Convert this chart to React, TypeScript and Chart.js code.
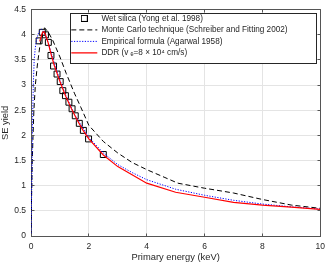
import { useEffect, useRef } from 'react';
import { Chart, registerables } from 'chart.js';

Chart.register(...registerables);

// ---------- data ----------
const seriesLabels = [
  'Wet silica (Yong et al. 1998)',
  'Monte Carlo technique (Schreiber and Fitting 2002)',
  'Empirical formula (Agarwal 1958)',
  'DDR (v \u2091=8 \u00d7 10\u2074 cm/s)',
];

const wetE = [0.28, 0.39, 0.5, 0.6, 0.69, 0.78, 0.9, 1.01, 1.1, 1.19, 1.31, 1.42, 1.53, 1.67, 1.81, 1.99, 2.5];
const wetY = [3.88, 4.05, 4.0, 3.85, 3.59, 3.38, 3.22, 3.07, 2.89, 2.79, 2.66, 2.53, 2.39, 2.24, 2.1, 1.93, 1.62];

const mcE = [0, 0.02, 0.04, 0.07, 0.1, 0.15, 0.22, 0.3, 0.38, 0.47, 0.6, 0.76, 1.0, 1.22, 1.5, 1.73, 2.0, 2.5, 3.0, 3.5, 4.0, 4.6, 5.08, 6, 7, 8, 9, 10];
const mcY = [0, 0.8, 1.4, 2.0, 2.5, 3.0, 3.4, 3.75, 4.0, 4.14, 4.05, 3.88, 3.56, 3.23, 2.84, 2.55, 2.2, 1.88, 1.65, 1.46, 1.32, 1.17, 1.05, 0.95, 0.855, 0.726, 0.615, 0.55];

const empE = [0, 0.015, 0.03, 0.045, 0.06, 0.08, 0.11, 0.15, 0.19, 0.25, 0.3, 0.36, 0.42, 0.5, 0.6, 0.8, 1.0, 1.2, 1.5, 2.0, 2.5, 3, 3.5, 4, 5, 6, 7, 8, 9, 10];
const empY = [0, 0.6, 1.2, 1.9, 2.45, 3.0, 3.5, 3.75, 3.9, 4.02, 4.08, 4.11, 4.08, 3.98, 3.83, 3.45, 3.1, 2.8, 2.42, 1.96, 1.65, 1.42, 1.26, 1.12, 0.93, 0.81, 0.71, 0.635, 0.58, 0.535];

const ddrE = [0.3, 0.4, 0.45, 0.5, 0.6, 0.7, 0.8, 1.0, 1.2, 1.4, 1.6, 1.8, 2.0, 2.5, 3, 4, 5, 6, 7, 8, 9, 10];
const ddrY = [3.87, 4.05, 4.06, 4.0, 3.83, 3.6, 3.4, 3.07, 2.78, 2.53, 2.3, 2.1, 1.93, 1.61, 1.38, 1.05, 0.87, 0.77, 0.67, 0.615, 0.575, 0.53];

const xTicks = [0, 2, 4, 6, 8, 10];
const yTicks = [0, 0.5, 1, 1.5, 2, 2.5, 3, 3.5, 4, 4.5];
const xTitle = 'Primary energy (keV)';
const yTitle = 'SE yield';

// ---------- styles ----------
const FONT = '"Liberation Sans", Arial, Helvetica, sans-serif';
const TEXT = '#262626';
const AXIS = '#555555';
const GRID = '#e4e4e4';

const pts = (xs: number[], ys: number[]) => xs.map((x, i) => ({ x, y: ys[i] }));
const al = (v: number) => Math.round(v - 0.5) + 0.5;

function squareIcon() {
  const c = document.createElement('canvas');
  c.width = 7;
  c.height = 7;
  const g = c.getContext('2d')!;
  g.strokeStyle = '#000';
  g.lineWidth = 1;
  g.strokeRect(0.5, 0.5, 6, 6);
  return c;
}

const framePlugin = {
  id: 'matlabFrame',
  beforeDraw(chart: any) {
    const lg = chart.legend;
    if (!lg) return;
    lg.left = 68;
    lg.top = 11;
    if (!lg._framed) {
      const orig = lg.draw.bind(lg);
      lg.draw = (...args: any[]) => {
        const ctx = chart.ctx;
        ctx.save();
        ctx.fillStyle = '#ffffff';
        ctx.fillRect(70, 13, 246, 50);
        ctx.strokeStyle = TEXT;
        ctx.lineWidth = 1;
        ctx.strokeRect(70.5, 13.5, 246, 50);
        ctx.restore();
        orig(...args);
      };
      lg._framed = true;
    }
  },
  afterDraw(chart: any) {
    const { ctx, scales } = chart;
    const xs = scales.x;
    const ys = scales.y;
    const L = al(xs.getPixelForValue(0));
    const R = al(xs.getPixelForValue(10));
    const T = al(ys.getPixelForValue(4.5));
    const B = al(ys.getPixelForValue(0));
    const tl = 3;
    ctx.save();
    ctx.strokeStyle = AXIS;
    ctx.lineWidth = 1;
    ctx.beginPath();
    ctx.moveTo(L, T);
    ctx.lineTo(R, T);
    ctx.lineTo(R, B);
    for (const v of xTicks) {
      const p = al(xs.getPixelForValue(v));
      ctx.moveTo(p, T);
      ctx.lineTo(p, T + tl);
      ctx.moveTo(p, B);
      ctx.lineTo(p, B - tl);
    }
    for (const v of yTicks) {
      const p = al(ys.getPixelForValue(v));
      ctx.moveTo(L, p);
      ctx.lineTo(L + tl, p);
      ctx.moveTo(R, p);
      ctx.lineTo(R - tl, p);
    }
    ctx.stroke();
    ctx.restore();
  },
};

export default function App() {
  const ref = useRef<HTMLCanvasElement>(null);

  useEffect(() => {
    const sq = squareIcon();
    const chart = new Chart(ref.current!, {
      type: 'line',
      data: {
        datasets: [
          {
            label: seriesLabels[0],
            data: pts(wetE, wetY),
            showLine: false,
            pointStyle: 'rect',
            pointRadius: 4.2,
            pointBorderWidth: 1,
            pointBorderColor: '#000000',
            pointBackgroundColor: 'rgba(0,0,0,0)',
            borderColor: '#000000',
            borderWidth: 1,
            order: 3,
          },
          {
            label: seriesLabels[1],
            data: pts(mcE, mcY),
            borderColor: '#000000',
            borderWidth: 1,
            borderDash: [5, 3],
            pointRadius: 0,
            tension: 0,
            order: 2,
          },
          {
            label: seriesLabels[2],
            data: pts(empE, empY),
            borderColor: '#0000ff',
            borderWidth: 1,
            borderDash: [1.2, 1.5],
            pointRadius: 0,
            tension: 0,
            order: 1,
          },
          {
            label: seriesLabels[3],
            data: pts(ddrE, ddrY),
            borderColor: '#ff0000',
            borderWidth: 1.2,
            pointRadius: 0,
            tension: 0,
            order: 0,
          },
        ] as any,
      },
      options: {
        animation: false,
        responsive: false,
        devicePixelRatio: 1,
        events: [],
        layout: { padding: { left: 0, top: 5, right: 7, bottom: 0 } },
        plugins: {
          tooltip: { enabled: false },
          legend: {
            position: 'chartArea' as any,
            align: 'start',
            labels: {
              usePointStyle: true,
              pointStyleWidth: 26,
              boxHeight: 7,
              padding: 3.3,
              color: TEXT,
              font: { family: FONT, size: 8.2 },
              generateLabels: (c: any) =>
                c.data.datasets.map((ds: any, i: number) => ({
                  text: ds.label,
                  datasetIndex: i,
                  hidden: false,
                  fillStyle: 'rgba(0,0,0,0)',
                  strokeStyle: ds.borderColor,
                  lineWidth: ds.borderWidth,
                  lineDash: ds.borderDash || [],
                  pointStyle: i === 0 ? sq : 'line',
                  fontColor: TEXT,
                })),
            },
          },
        },
        scales: {
          x: {
            type: 'linear',
            min: 0,
            max: 10,
            afterBuildTicks: (s: any) => {
              s.ticks = xTicks.map((v) => ({ value: v }));
            },
            afterFit: (s: any) => {
              s.height = 28;
            },
            ticks: {
              color: TEXT,
              font: { family: FONT, size: 8.5, lineHeight: 1.1 },
              padding: 6,
              maxRotation: 0,
              autoSkip: false,
              callback: (v: any) => String(v),
            },
            grid: { color: GRID, lineWidth: 1, drawTicks: false },
            border: { display: true, color: AXIS, width: 1 },
            title: {
              display: true,
              text: xTitle,
              color: TEXT,
              font: { family: FONT, size: 9.35, lineHeight: 1.2 },
              padding: { top: 0, bottom: 1 },
            },
          },
          y: {
            type: 'linear',
            min: 0,
            max: 4.5,
            afterBuildTicks: (s: any) => {
              s.ticks = yTicks.map((v) => ({ value: v }));
            },
            afterFit: (s: any) => {
              s.width = 31;
            },
            ticks: {
              color: TEXT,
              font: { family: FONT, size: 8.5, lineHeight: 1.1 },
              padding: 5,
              autoSkip: false,
              callback: (v: any) => String(v),
            },
            grid: { color: GRID, lineWidth: 1, drawTicks: false },
            border: { display: true, color: AXIS, width: 1 },
            title: {
              display: true,
              text: yTitle,
              color: TEXT,
              font: { family: FONT, size: 9.35, lineHeight: 1.1 },
              padding: { top: 0, bottom: 0 },
            },
          },
        },
      },
      plugins: [framePlugin as any],
    });
    return () => chart.destroy();
  }, []);

  return (
    <div style={{ position: 'absolute', left: 0, top: 0, width: 331, height: 264, background: '#ffffff' }}>
      <canvas ref={ref} width={331} height={264} style={{ display: 'block', width: 331, height: 264 }} />
    </div>
  );
}
